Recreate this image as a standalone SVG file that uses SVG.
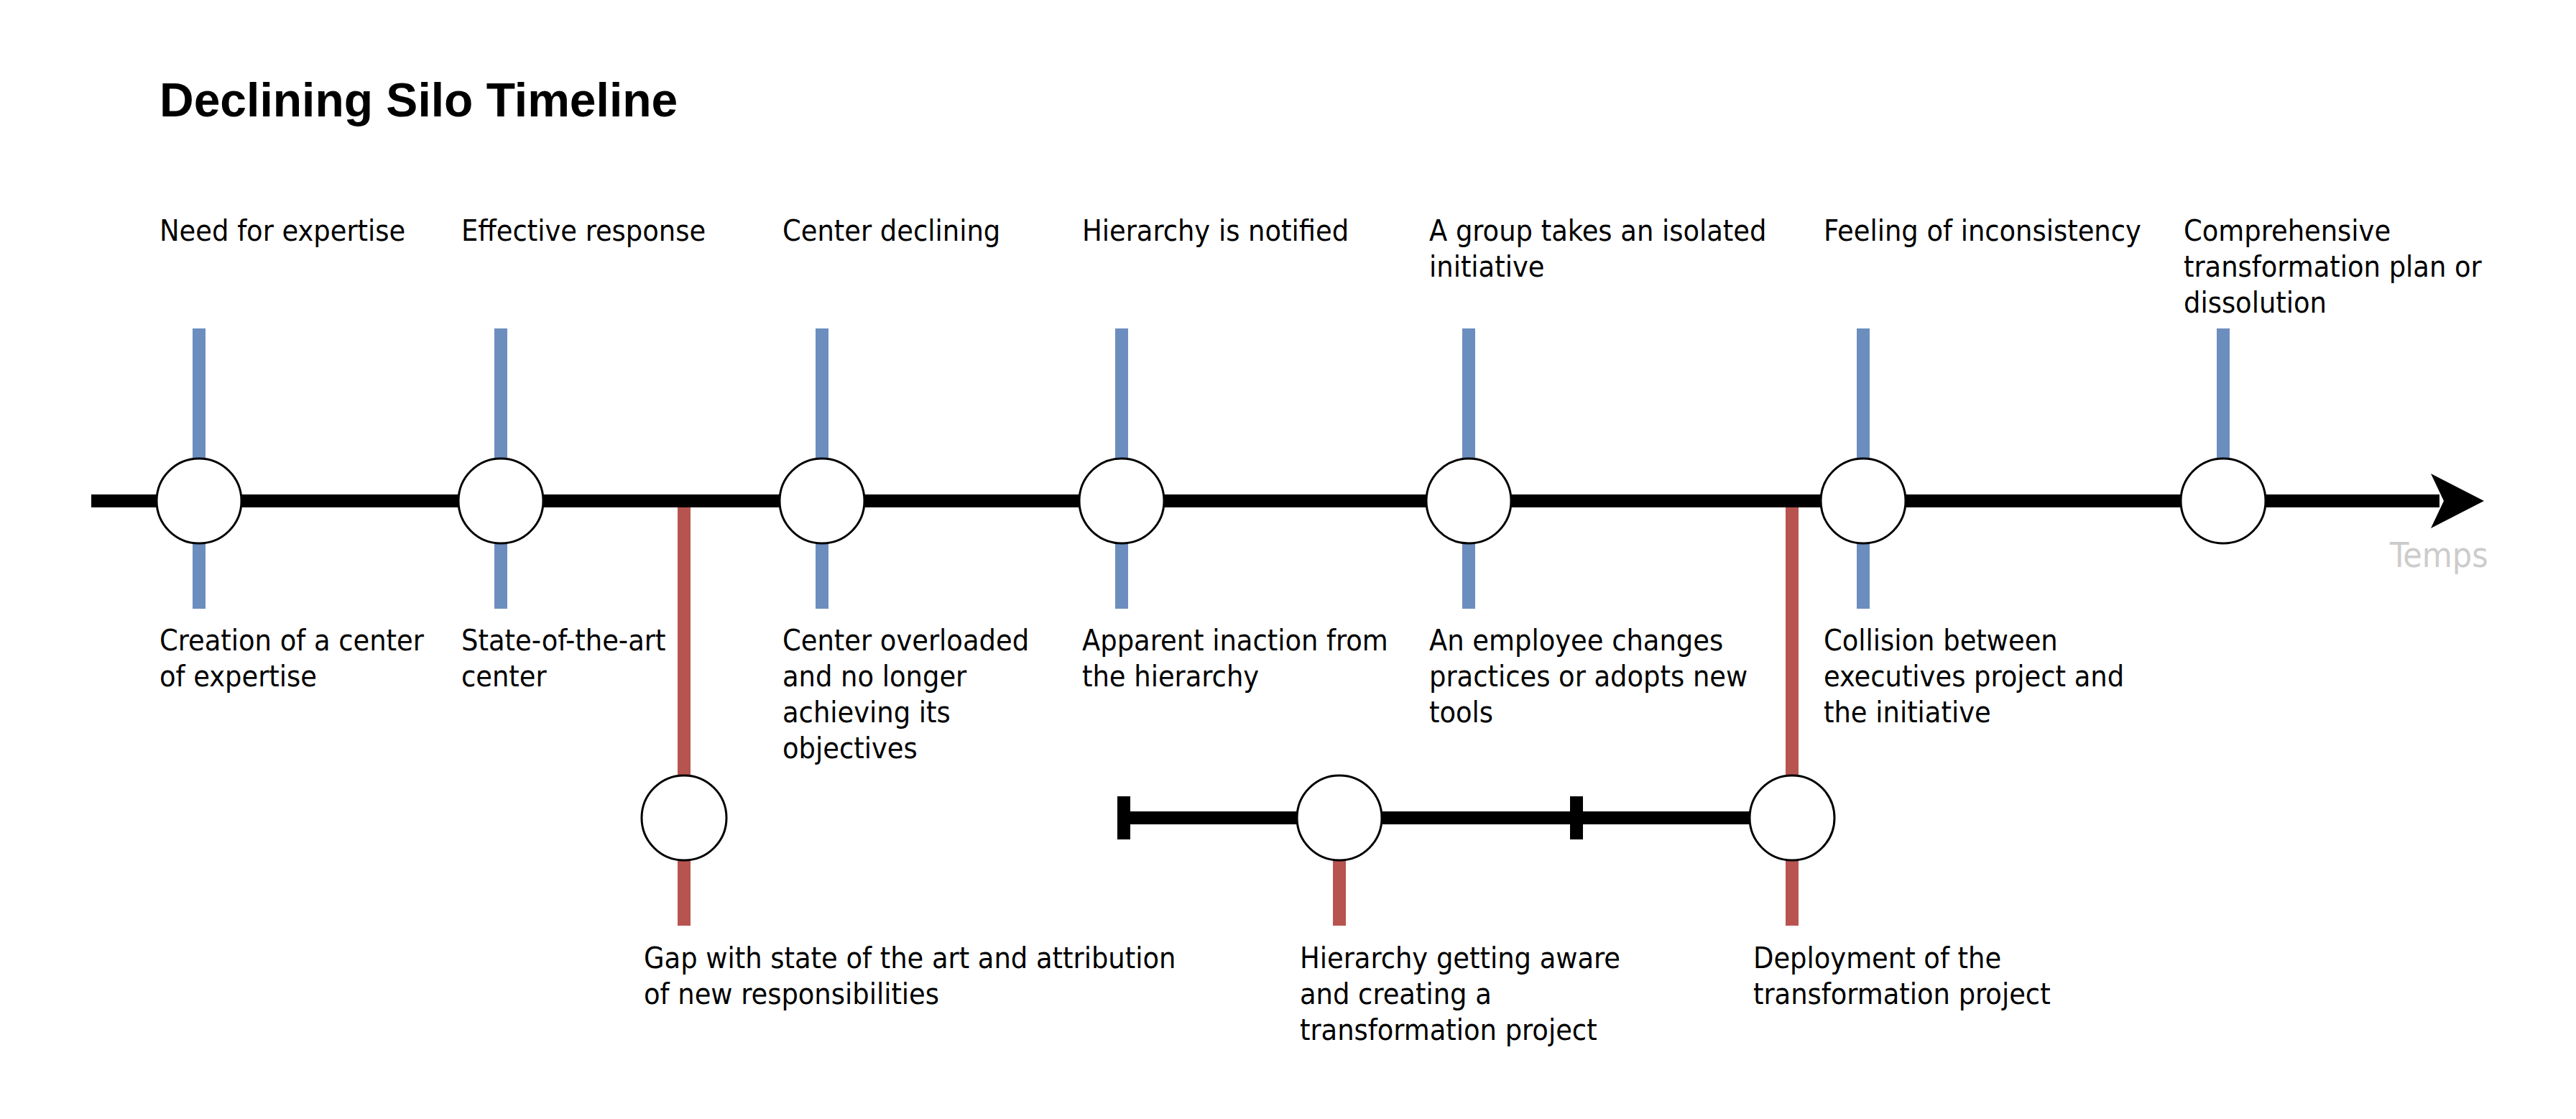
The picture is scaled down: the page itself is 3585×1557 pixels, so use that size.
<svg xmlns="http://www.w3.org/2000/svg" width="3585" height="1557" viewBox="0 0 3585 1557">
<style>
.t{font-family:"DejaVu Sans Condensed","DejaVu Sans",sans-serif;font-stretch:condensed;font-size:41px;fill:#000}
.title{font-family:"Liberation Sans",Arial,sans-serif;font-weight:bold;font-size:66px;fill:#000}
.temps{font-family:"DejaVu Sans Condensed","DejaVu Sans",sans-serif;font-stretch:condensed;font-size:48px;fill:#cccccc}
.blue{stroke:#6c8ebf;stroke-width:18;fill:none}
.red{stroke:#b85450;stroke-width:18;fill:none}
.blk{stroke:#000;stroke-width:18;fill:none}
.node{fill:#fff;stroke:#000;stroke-width:3}
</style>
<rect width="3585" height="1557" fill="#fff"/>
<text class="title" x="222" y="162">Declining Silo Timeline</text>
<g id="connectors">
<line class="blue" x1="277" y1="457" x2="277" y2="847"/>
<line class="blue" x1="697" y1="457" x2="697" y2="847"/>
<line class="blue" x1="1144" y1="457" x2="1144" y2="847"/>
<line class="blue" x1="1561" y1="457" x2="1561" y2="847"/>
<line class="blue" x1="2044" y1="457" x2="2044" y2="847"/>
<line class="blue" x1="2593" y1="457" x2="2593" y2="847"/>
<line class="blue" x1="3094" y1="457" x2="3094" y2="697"/>
<line class="red" x1="952" y1="697" x2="952" y2="1288"/>
<line class="red" x1="2494" y1="697" x2="2494" y2="1288"/>
<line class="red" x1="1864" y1="1138" x2="1864" y2="1288"/>
<line class="blk" x1="127" y1="697" x2="3395" y2="697"/>
<path d="M3457 697 L3383 659 L3401 697 L3383 735 Z" fill="#000"/>
<line class="blk" x1="1564" y1="1138" x2="2494" y2="1138"/>
<line class="blk" x1="1564" y1="1108" x2="1564" y2="1168"/>
<line class="blk" x1="2194" y1="1108" x2="2194" y2="1168"/>
</g>
<g id="n1"><circle class="node" cx="277" cy="697" r="59"/>
<text class="t" x="222" y="335">Need for expertise</text>
<text class="t" x="222" y="905">Creation of a center</text><text class="t" x="222" y="955">of expertise</text></g>
<g id="n2"><circle class="node" cx="697" cy="697" r="59"/>
<text class="t" x="642" y="335">Effective response</text>
<text class="t" x="642" y="905">State-of-the-art</text><text class="t" x="642" y="955">center</text></g>
<g id="n3"><circle class="node" cx="1144" cy="697" r="59"/>
<text class="t" x="1089" y="335">Center declining</text>
<text class="t" x="1089" y="905">Center overloaded</text><text class="t" x="1089" y="955">and no longer</text><text class="t" x="1089" y="1005">achieving its</text><text class="t" x="1089" y="1055">objectives</text></g>
<g id="n4"><circle class="node" cx="1561" cy="697" r="59"/>
<text class="t" x="1506" y="335">Hierarchy is notified</text>
<text class="t" x="1506" y="905">Apparent inaction from</text><text class="t" x="1506" y="955">the hierarchy</text></g>
<g id="n5"><circle class="node" cx="2044" cy="697" r="59"/>
<text class="t" x="1989" y="335">A group takes an isolated</text><text class="t" x="1989" y="385">initiative</text>
<text class="t" x="1989" y="905">An employee changes</text><text class="t" x="1989" y="955">practices or adopts new</text><text class="t" x="1989" y="1005">tools</text></g>
<g id="n6"><circle class="node" cx="2593" cy="697" r="59"/>
<text class="t" x="2538" y="335">Feeling of inconsistency</text>
<text class="t" x="2538" y="905">Collision between</text><text class="t" x="2538" y="955">executives project and</text><text class="t" x="2538" y="1005">the initiative</text></g>
<g id="n7"><circle class="node" cx="3094" cy="697" r="59"/>
<text class="t" x="3039" y="335">Comprehensive</text><text class="t" x="3039" y="385">transformation plan or</text><text class="t" x="3039" y="435">dissolution</text></g>
<g id="r1"><circle class="node" cx="952" cy="1138" r="59"/>
<text class="t" x="896" y="1347">Gap with state of the art and attribution</text><text class="t" x="896" y="1397">of new responsibilities</text></g>
<g id="r2"><circle class="node" cx="1864" cy="1138" r="59"/>
<text class="t" x="1809" y="1347">Hierarchy getting aware</text><text class="t" x="1809" y="1397">and creating a</text><text class="t" x="1809" y="1447">transformation project</text></g>
<g id="r3"><circle class="node" cx="2494" cy="1138" r="59"/>
<text class="t" x="2440" y="1347">Deployment of the</text><text class="t" x="2440" y="1397">transformation project</text></g>
<g id="axis-label"><text class="temps" x="3326" y="789">Temps</text></g>
</svg>
